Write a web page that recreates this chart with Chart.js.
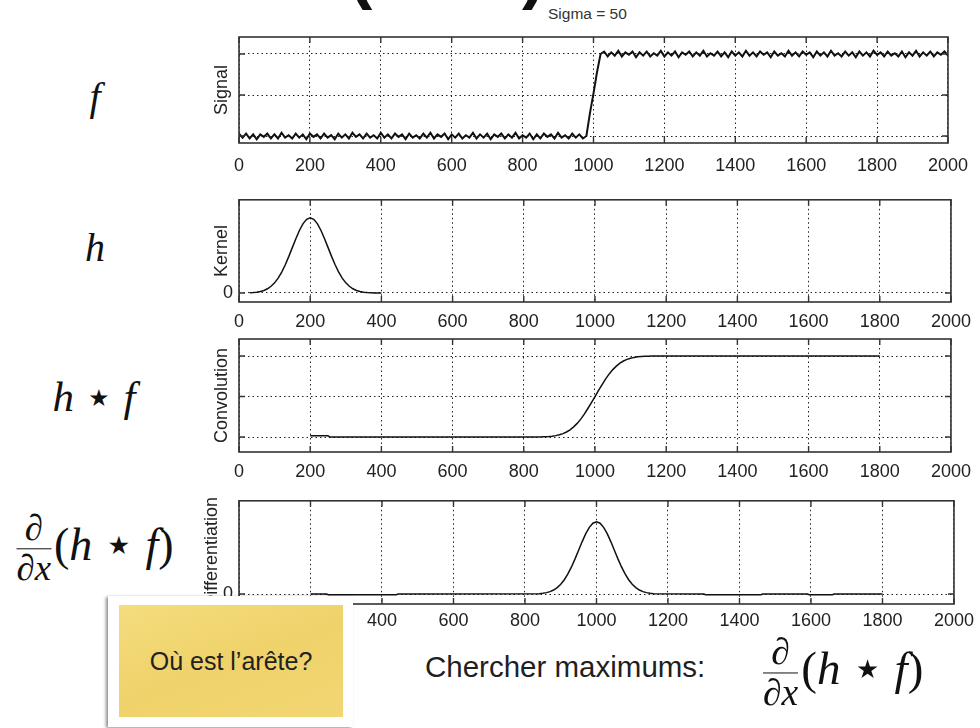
<!DOCTYPE html>
<html>
<head>
<meta charset="utf-8">
<script src="https://cdn.jsdelivr.net/npm/chart.js@4.4.0/dist/chart.umd.min.js"></script>
<style>
  body { margin: 0; width: 980px; height: 728px; background: #fff; position: relative; overflow: hidden;
         font-family: "Liberation Sans", Arial, sans-serif; color: #1a1a1a; }
  canvas { position: absolute; left: 190px; }
  .paren { position: absolute; font-size: 70px; line-height: 70px; color: #111; font-weight: bold; }
  .sigma { position: absolute; left: 548px; top: 5px; font-size: 15.5px; color: #333; }
  .math { position: absolute; font-family: "Liberation Serif", "DejaVu Serif", serif; font-style: italic;
          font-size: 40px; color: #111; transform: translate(-50%, -50%); white-space: nowrap; }
  .up { font-style: normal; }
  .star { font-style: normal; font-family: "DejaVu Sans", sans-serif; font-size: 0.55em; margin: 0 0.6em;
          position: relative; top: -0.2em; }
  .frac { display: inline-block; vertical-align: middle; text-align: center; font-size: 0.8em; margin-right: 3px; }
  .frac .num { display: block; line-height: 1.0; border-bottom: 1.6px solid #111; padding: 0 4px 1px; }
  .frac .den { display: block; line-height: 1.05; }
  .note { position: absolute; left: 108px; top: 596px; width: 245px; height: 131px; background: #fff;
          box-shadow: -2px 1px 3px rgba(0,0,0,0.45); }
  .note .paper { position: absolute; left: 11px; top: 9px; width: 224px; height: 112px;
                 background: linear-gradient(160deg, #f5dc7e 0%, #efd26a 50%, #f2d672 100%);
                 display: flex; align-items: center; justify-content: center; font-size: 25px; color: #222; }
  .caption { position: absolute; left: 425px; top: 652px; font-size: 29.5px; line-height: 29px; color: #1f1f1f; }
</style>
</head>
<body>
<div class="paren" style="left:349px; top:-64px;">(</div>
<div class="paren" style="left:522px; top:-64px;">)</div>
<div class="sigma">Sigma = 50</div>

<div class="math" style="left:95px; top:96px;">f</div>
<div class="math" style="left:95px; top:247px;">h</div>
<div class="math" style="left:94px; top:396px; font-size:43px;">h<span class="star">★</span>f</div>
<div class="math" style="left:95px; top:549px; font-size:46px;"><span class="frac"><span class="num up">∂</span><span class="den"><span class="up">∂</span>x</span></span><span class="up">(</span>h<span class="star">★</span>f<span class="up">)</span></div>

<canvas id="p1" width="790" height="146" style="top:31px"></canvas>
<canvas id="p2" width="790" height="153" style="top:183px"></canvas>
<canvas id="p3" width="790" height="153" style="top:333px"></canvas>
<canvas id="p4" width="790" height="154" style="top:484px"></canvas>

<div class="note"><div class="paper">Où est l’arête?</div></div>
<div class="caption">Chercher maximums:</div>
<div class="math" style="left:763px; top:673px; font-size:47px; transform: translateY(-50%);"><span class="frac"><span class="num up">∂</span><span class="den"><span class="up">∂</span>x</span></span><span class="up">(</span>h<span class="star">★</span>f<span class="up">)</span></div>

<script>
// x axis shared by all four panels
const xMin = 0, xMax = 2000, xStep = 200;

// signal f, sampled every 10 units
const signalStep = 10;
const signalLow = [
  0.03,-0.02,0.03,-0.03,0.02,-0.04,0.02,-0.01,0.03,-0.03,
  0.02,-0.03,0.04,-0.02,0.01,-0.03,0.03,-0.02,0.02,-0.04,
  0.03,-0.01,0.02,-0.03,0.03,-0.02,0.01,-0.04,0.03,-0.02,
  0.02,-0.03,0.04,-0.01,0.02,-0.03,0.03,-0.02,0.01,-0.03,
  0.04,-0.02,0.02,-0.03,0.03,-0.01,0.02,-0.04,0.03,-0.02,
  0.01,-0.03,0.03,-0.02,0.04,-0.03,0.02,-0.01,0.03,-0.04,
  0.02,-0.02,0.03,-0.03,0.01,-0.02,0.04,-0.03,0.02,-0.02,
  0.03,-0.04,0.02,-0.01,0.03,-0.03,0.02,-0.02,0.04,-0.03,
  0.01,-0.02,0.03,-0.04,0.02,-0.03,0.03,-0.01,0.02,-0.03,
  0.04,-0.02,0.01,-0.03,0.03,-0.02,0.02,-0.03
];
const signalRamp = [0.00, 0.28, 0.52, 0.78, 1.00];
const signalHigh = [
  1.03,0.97,1.02,0.98,1.04,0.97,1.02,0.99,1.03,0.96,
  1.02,0.98,1.03,0.97,1.01,0.98,1.04,0.97,1.02,0.98,
  1.03,0.96,1.02,0.99,1.03,0.97,1.02,0.98,1.04,0.97,
  1.01,0.98,1.03,0.97,1.02,0.96,1.03,0.98,1.02,0.97,
  1.04,0.98,1.02,0.97,1.03,0.99,1.02,0.96,1.03,0.98,
  1.01,0.97,1.04,0.98,1.02,0.97,1.03,0.99,1.02,0.96,
  1.03,0.98,1.02,0.97,1.04,0.98,1.01,0.97,1.03,0.98,
  1.02,0.96,1.03,0.98,1.02,0.97,1.04,0.99,1.02,0.97,
  1.03,0.98,1.01,0.97,1.03,0.96,1.02,0.98,1.04,0.97,
  1.02,0.98,1.03,0.97,1.02,0.99,1.03,0.98
];
const signalY = signalLow.concat(signalRamp, signalHigh);
const signalX = signalY.map((v, i) => i * signalStep);

// kernel h (gaussian, sigma = 50, centred on 200)
const kernelX = [30,40,50,60,70,80,90,100,110,120,130,140,150,160,170,180,190,200,
                 210,220,230,240,250,260,270,280,290,300,310,320,330,340,350,360,370,380,390,400];
const kernelY = [0.003,0.006,0.011,0.020,0.034,0.056,0.089,0.135,0.198,0.278,0.375,0.487,0.607,0.726,0.835,0.923,0.980,1.000,
                 0.980,0.923,0.835,0.726,0.607,0.487,0.375,0.278,0.198,0.135,0.089,0.056,0.034,0.020,0.011,0.006,0.003,0.001,0.000,0.000];

// convolution h*f
const convX = [200,250,255,840,850,860,870,880,890,900,910,920,930,940,950,960,970,980,990,1000,
               1010,1020,1030,1040,1050,1060,1070,1080,1090,1100,1110,1120,1130,1140,1150,1160,1800];
const convY = [0.015,0.015,0,0.001,0.002,0.004,0.006,0.010,0.017,0.027,0.042,0.062,0.089,0.125,0.168,0.221,0.282,0.352,0.425,0.500,
               0.575,0.648,0.718,0.779,0.832,0.875,0.911,0.938,0.958,0.973,0.983,0.990,0.994,0.996,0.998,0.999,1.000];

// derivative of the convolution
const diffX = [200,245,250,440,445,840,850,860,870,880,890,900,910,920,930,940,950,960,970,980,990,1000,
               1010,1020,1030,1040,1050,1060,1070,1080,1090,1100,1110,1120,1130,1140,1150,1160,
               1300,1305,1460,1465,1590,1595,1660,1665,1800];
const diffY = [0,0,-0.01,-0.01,0,0.006,0.011,0.020,0.034,0.056,0.089,0.135,0.198,0.278,0.375,0.487,0.607,0.726,0.835,0.923,0.980,1.000,
               0.980,0.923,0.835,0.726,0.607,0.487,0.375,0.278,0.198,0.135,0.089,0.056,0.034,0.020,0.011,0.006,
               0,-0.01,-0.01,0,0,-0.01,-0.01,0,0];

const tickFont = { family: '"Liberation Sans", Arial, sans-serif', size: 18 };

// matlab style frame with inward tick marks
const boxPlugin = {
  id: 'box',
  afterDraw(chart) {
    const { ctx, chartArea: a, scales } = chart;
    ctx.save();
    ctx.strokeStyle = '#333';
    ctx.lineWidth = 1.6;
    ctx.strokeRect(a.left, a.top, a.right - a.left, a.bottom - a.top);
    ctx.lineWidth = 1.4;
    ctx.beginPath();
    scales.x.ticks.forEach(t => {
      const px = scales.x.getPixelForValue(t.value);
      ctx.moveTo(px, a.top); ctx.lineTo(px, a.top + 6);
      ctx.moveTo(px, a.bottom); ctx.lineTo(px, a.bottom - 6);
    });
    scales.y.ticks.forEach(t => {
      const py = scales.y.getPixelForValue(t.value);
      ctx.moveTo(a.left, py); ctx.lineTo(a.left + 6, py);
      ctx.moveTo(a.right, py); ctx.lineTo(a.right - 6, py);
    });
    ctx.stroke();
    ctx.restore();
  }
};

function makePanel(id, xs, ys, yMin, yMax, yTicks, showYLabels, yTitle, labelPad, titlePad, lineWidth) {
  return new Chart(document.getElementById(id), {
    type: 'line',
    data: {
      datasets: [{
        data: xs.map((x, i) => ({ x: x, y: ys[i] })),
        borderColor: '#111',
        borderWidth: lineWidth,
        pointRadius: 0,
        tension: 0,
        fill: false
      }]
    },
    options: {
      responsive: false,
      animation: false,
      events: [],
      layout: { padding: { top: 6, right: 24, left: 0, bottom: 0 } },
      plugins: { legend: { display: false }, tooltip: { enabled: false } },
      scales: {
        x: {
          type: 'linear', min: xMin, max: xMax,
          ticks: { stepSize: xStep, padding: labelPad, font: tickFont, color: '#222', maxRotation: 0, autoSkip: false,
                   callback: v => String(v) },
          grid: { color: '#222', lineWidth: 1, drawTicks: false },
          border: { display: false, dash: [1.5, 3] },
          afterFit: s => { s.height = 34; }
        },
        y: {
          type: 'linear', min: yMin, max: yMax,
          afterBuildTicks: s => { s.ticks = yTicks.map(v => ({ value: v })); },
          ticks: { display: showYLabels, padding: 6, font: tickFont, color: '#222', callback: v => String(v) },
          grid: { color: '#222', lineWidth: 1, drawTicks: false },
          border: { display: false, dash: [1.5, 3] },
          title: { display: true, text: yTitle, font: tickFont, color: '#222', padding: { top: titlePad, bottom: 0 } },
          afterFit: s => { s.width = 49; }
        }
      }
    },
    plugins: [boxPlugin]
  });
}

makePanel('p1', signalX, signalY, -0.085, 1.207, [0, 0.5, 1], false, 'Signal', 12, 21, 2);
makePanel('p2', kernelX, kernelY, -0.12, 1.24, [0], true, 'Kernel', 9, 21, 1.5);
makePanel('p3', convX, convY, -0.185, 1.21, [0, 0.5, 1], false, 'Convolution', 9, 21, 1.5);
makePanel('p4', diffX, diffY, -0.1375, 1.29, [0], true, 'Differentiation', 6, 11, 1.5);
</script>
</body>
</html>
